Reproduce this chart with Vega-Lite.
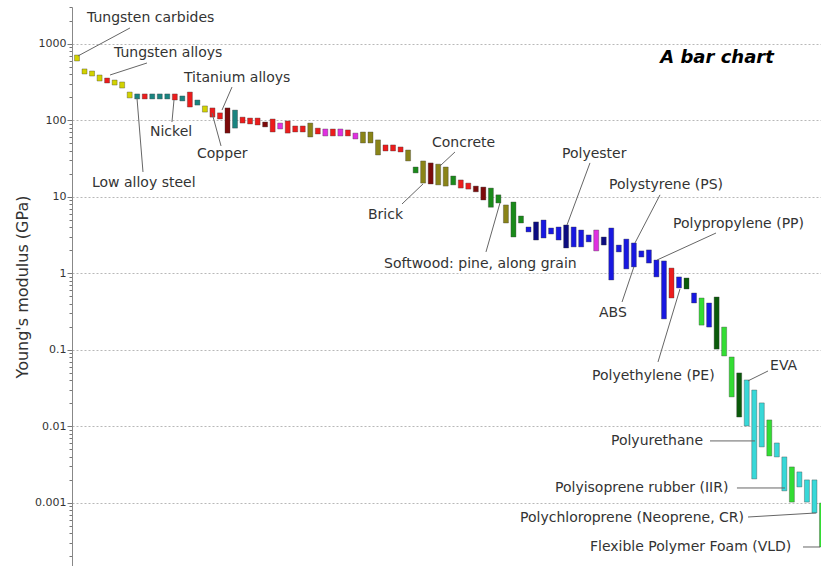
{
  "$schema": "https://vega.github.io/schema/vega-lite/v6.json",
  "width": 749,
  "height": 559,
  "autosize": "none",
  "padding": {"left": 72, "top": 7, "right": 0, "bottom": 0},
  "background": "white",
  "config": {"view": {"stroke": null}, "font": "DejaVu Sans"},
  "layer": [
    {
      "data": {"values": [
        {"i":0,"lo":596,"hi":714,"c":"yellow"},
        {"i":1,"lo":403,"hi":469,"c":"yellow"},
        {"i":2,"lo":379,"hi":441,"c":"yellow"},
        {"i":3,"lo":326,"hi":391,"c":"yellow"},
        {"i":4,"lo":307,"hi":357,"c":"red"},
        {"i":5,"lo":289,"hi":336,"c":"yellow"},
        {"i":6,"lo":264,"hi":317,"c":"yellow"},
        {"i":7,"lo":196,"hi":234,"c":"yellow"},
        {"i":8,"lo":190,"hi":221,"c":"teal"},
        {"i":9,"lo":190,"hi":221,"c":"red"},
        {"i":10,"lo":190,"hi":221,"c":"teal"},
        {"i":11,"lo":190,"hi":221,"c":"teal"},
        {"i":12,"lo":190,"hi":221,"c":"teal"},
        {"i":13,"lo":184,"hi":221,"c":"red"},
        {"i":14,"lo":179,"hi":208,"c":"teal"},
        {"i":15,"lo":149,"hi":234,"c":"red"},
        {"i":16,"lo":158,"hi":184,"c":"teal"},
        {"i":17,"lo":128,"hi":154,"c":"yellow"},
        {"i":18,"lo":110,"hi":145,"c":"red"},
        {"i":19,"lo":104,"hi":125,"c":"red"},
        {"i":20,"lo":68,"hi":145,"c":"darkred"},
        {"i":21,"lo":79,"hi":136,"c":"teal"},
        {"i":22,"lo":92,"hi":110,"c":"red"},
        {"i":23,"lo":89.5,"hi":107,"c":"red"},
        {"i":24,"lo":86.8,"hi":107,"c":"red"},
        {"i":25,"lo":81.9,"hi":95,"c":"darkred"},
        {"i":26,"lo":70.3,"hi":104,"c":"red"},
        {"i":27,"lo":77,"hi":92,"c":"magenta"},
        {"i":28,"lo":68,"hi":98,"c":"red"},
        {"i":29,"lo":70.3,"hi":84.3,"c":"red"},
        {"i":30,"lo":70.3,"hi":84.3,"c":"red"},
        {"i":31,"lo":60.5,"hi":92,"c":"olive"},
        {"i":32,"lo":66.2,"hi":79,"c":"red"},
        {"i":33,"lo":62.4,"hi":77,"c":"magenta"},
        {"i":34,"lo":62.4,"hi":77,"c":"red"},
        {"i":35,"lo":62.4,"hi":77,"c":"magenta"},
        {"i":36,"lo":62.4,"hi":74.8,"c":"red"},
        {"i":37,"lo":57,"hi":68,"c":"magenta"},
        {"i":38,"lo":50.5,"hi":70.3,"c":"olive"},
        {"i":39,"lo":50.5,"hi":70.3,"c":"olive"},
        {"i":40,"lo":35.2,"hi":55.4,"c":"olive"},
        {"i":41,"lo":39.7,"hi":47.6,"c":"red"},
        {"i":42,"lo":39.7,"hi":47.6,"c":"red"},
        {"i":43,"lo":38.5,"hi":44.8,"c":"red"},
        {"i":44,"lo":29.4,"hi":40.9,"c":"olive"},
        {"i":45,"lo":20.5,"hi":24.5,"c":"green"},
        {"i":46,"lo":15.1,"hi":29.4,"c":"olive"},
        {"i":47,"lo":14.7,"hi":27.7,"c":"darkred"},
        {"i":48,"lo":14.3,"hi":26.7,"c":"olive"},
        {"i":49,"lo":13.8,"hi":24.5,"c":"olive"},
        {"i":50,"lo":14.3,"hi":18.7,"c":"green"},
        {"i":51,"lo":13.0,"hi":16.6,"c":"red"},
        {"i":52,"lo":12.6,"hi":15.1,"c":"red"},
        {"i":53,"lo":11.6,"hi":13.8,"c":"darkred"},
        {"i":54,"lo":9.08,"hi":13.4,"c":"darkred"},
        {"i":55,"lo":7.3,"hi":13.0,"c":"green"},
        {"i":56,"lo":8.3,"hi":10.6,"c":"green"},
        {"i":57,"lo":4.54,"hi":7.82,"c":"olive"},
        {"i":58,"lo":2.98,"hi":8.55,"c":"green"},
        {"i":59,"lo":4.54,"hi":5.61,"c":"green"},
        {"i":60,"lo":3.47,"hi":4.03,"c":"blue"},
        {"i":61,"lo":2.72,"hi":4.69,"c":"darkblue"},
        {"i":62,"lo":2.89,"hi":4.97,"c":"blue"},
        {"i":63,"lo":3.26,"hi":3.91,"c":"blue"},
        {"i":64,"lo":2.72,"hi":4.03,"c":"blue"},
        {"i":65,"lo":2.14,"hi":4.28,"c":"darkblue"},
        {"i":66,"lo":2.21,"hi":4.03,"c":"blue"},
        {"i":67,"lo":2.21,"hi":3.68,"c":"blue"},
        {"i":68,"lo":2.57,"hi":3.17,"c":"blue"},
        {"i":69,"lo":1.96,"hi":3.68,"c":"magenta"},
        {"i":70,"lo":2.34,"hi":2.98,"c":"darkblue"},
        {"i":71,"lo":0.817,"hi":3.91,"c":"blue"},
        {"i":72,"lo":1.90,"hi":2.34,"c":"blue"},
        {"i":73,"lo":1.14,"hi":2.8,"c":"blue"},
        {"i":74,"lo":1.21,"hi":2.49,"c":"blue"},
        {"i":75,"lo":1.63,"hi":1.96,"c":"blue"},
        {"i":76,"lo":1.36,"hi":2.02,"c":"blue"},
        {"i":77,"lo":0.896,"hi":1.49,"c":"blue"},
        {"i":78,"lo":0.253,"hi":1.45,"c":"blue"},
        {"i":79,"lo":0.475,"hi":1.17,"c":"red"},
        {"i":80,"lo":0.643,"hi":0.896,"c":"blue"},
        {"i":81,"lo":0.623,"hi":0.868,"c":"darkgreen"},
        {"i":82,"lo":0.409,"hi":0.552,"c":"blue"},
        {"i":83,"lo":0.210,"hi":0.475,"c":"lime"},
        {"i":84,"lo":0.198,"hi":0.409,"c":"blue"},
        {"i":85,"lo":0.102,"hi":0.490,"c":"darkgreen"},
        {"i":86,"lo":0.083,"hi":0.198,"c":"lime"},
        {"i":87,"lo":0.0242,"hi":0.0805,"c":"lime"},
        {"i":88,"lo":0.0132,"hi":0.0498,"c":"darkgreen"},
        {"i":89,"lo":0.0101,"hi":0.0403,"c":"cyan"},
        {"i":90,"lo":0.00205,"hi":0.0298,"c":"cyan"},
        {"i":91,"lo":0.00537,"hi":0.0202,"c":"cyan"},
        {"i":92,"lo":0.00409,"hi":0.0121,"c":"lime"},
        {"i":93,"lo":0.00397,"hi":0.00605,"c":"cyan"},
        {"i":94,"lo":0.00143,"hi":0.00397,"c":"cyan"},
        {"i":95,"lo":0.00102,"hi":0.00294,"c":"lime"},
        {"i":96,"lo":0.00161,"hi":0.00253,"c":"cyan"},
        {"i":97,"lo":0.00102,"hi":0.00199,"c":"cyan"},
        {"i":98,"lo":0.000735,"hi":0.00199,"c":"cyan"},
        {"i":99,"lo":0.000264,"hi":0.000993,"c":"lime"}
      ]},
      "mark": {"type": "bar", "width": 5, "clip": true, "stroke": "#3a3a3a", "strokeWidth": 0.6, "strokeOpacity": 0.6},
      "encoding": {
        "x": {"field": "i", "type": "quantitative", "scale": {"domain": [-0.664, 98.87], "nice": false, "zero": false, "padding": 0}, "axis": null},
        "y": {"field": "lo", "type": "quantitative", "title": "Young's modulus (GPa)",
          "scale": {"type": "log", "domain": [0.000149, 3027], "nice": false},
          "axis": {
            "values": [0.0002,0.0003,0.0004,0.0005,0.0006,0.0007,0.0008,0.0009,0.001,0.002,0.003,0.004,0.005,0.006,0.007,0.008,0.009,0.01,0.02,0.03,0.04,0.05,0.06,0.07,0.08,0.09,0.1,0.2,0.3,0.4,0.5,0.6,0.7,0.8,0.9,1,2,3,4,5,6,7,8,9,10,20,30,40,50,60,70,80,90,100,200,300,400,500,600,700,800,900,1000,2000,3000],
            "labelExpr": "abs(log(datum.value)/LN10 - round(log(datum.value)/LN10)) < 0.001 ? format(datum.value, '~g') : ''",
            "labelOverlap": false,
            "labelFlush": false,
            "labelFont": "DejaVu Sans",
            "labelFontSize": 11,
            "labelColor": "#333333",
            "labelPadding": 1,
            "tickColor": "#777777",
            "tickSize": {"condition": {"test": "abs(log(datum.value)/LN10 - round(log(datum.value)/LN10)) < 0.001", "value": 5}, "value": 3},
            "grid": true,
            "gridColor": "#b8b8b8",
            "gridDash": [2, 2],
            "gridOpacity": {"condition": {"test": "abs(log(datum.value)/LN10 - round(log(datum.value)/LN10)) < 0.001", "value": 1}, "value": 0},
            "domainColor": "#888888",
            "titleFont": "DejaVu Sans",
            "titleFontSize": 16,
            "titleFontWeight": "normal",
            "titleColor": "#333333",
            "titlePadding": 4
          }
        },
        "y2": {"field": "hi"},
        "color": {"field": "c", "type": "nominal", "legend": null,
          "scale": {
            "domain": ["yellow","red","teal","darkred","magenta","olive","green","blue","darkblue","darkgreen","lime","cyan"],
            "range": ["#d2d200","#ec1c1c","#1a8480","#7c0a0a","#e030e0","#8a8418","#1a8a1a","#1818e0","#0c0c80","#0a5a0a","#33dd33","#38d8d8"]
          }
        }
      }
    },
    {
      "data": {"values": [
        {"x1":0.13,"y1":693,"x2":7.04,"y2":1610},
        {"x1":4.39,"y1":391,"x2":9.30,"y2":561},
        {"x1":19.27,"y1":136,"x2":20.6,"y2":272},
        {"x1":12.89,"y1":184,"x2":12.62,"y2":95},
        {"x1":17.94,"y1":125,"x2":19.14,"y2":46.2},
        {"x1":7.97,"y1":196,"x2":8.77,"y2":21.1},
        {"x1":48.24,"y1":25.3,"x2":50.23,"y2":38.5},
        {"x1":45.98,"y1":14.7,"x2":43.19,"y2":8.05},
        {"x1":56.21,"y1":8.3,"x2":54.35,"y2":1.90},
        {"x1":65.12,"y1":4.28,"x2":68.17,"y2":27.7},
        {"x1":74.15,"y1":2.49,"x2":77.48,"y2":10.6},
        {"x1":77.08,"y1":1.49,"x2":84.92,"y2":3.36},
        {"x1":74.0,"y1":1.21,"x2":72.43,"y2":0.421},
        {"x1":80.13,"y1":0.623,"x2":77.21,"y2":0.0693},
        {"x1":89.17,"y1":0.0392,"x2":91.83,"y2":0.0528},
        {"x1":84.12,"y1":0.00643,"x2":90.1,"y2":0.00643},
        {"x1":87.7,"y1":0.00156,"x2":94.09,"y2":0.00156},
        {"x1":89.17,"y1":0.000651,"x2":98.2,"y2":0.000735},
        {"x1":96.48,"y1":0.000264,"x2":98.74,"y2":0.000264}
      ]},
      "mark": {"type": "rule", "color": "#666666", "strokeWidth": 1, "clip": true},
      "encoding": {
        "x": {"field": "x1", "type": "quantitative", "scale": {"domain": [-0.664, 98.87], "nice": false, "zero": false, "padding": 0}, "axis": null},
        "x2": {"field": "x2"},
        "y": {"field": "y1", "type": "quantitative", "title": "Young's modulus (GPa)", "scale": {"type": "log", "domain": [0.000149, 3027], "nice": false}},
        "y2": {"field": "y2"}
      }
    },
    {
      "data": {"values": [
        {"x":1.33,"y":2175,"t":"Tungsten carbides"},
        {"x":4.92,"y":758,"t":"Tungsten alloys"},
        {"x":14.22,"y":357,"t":"Titanium alloys"},
        {"x":9.70,"y":70.3,"t":"Nickel"},
        {"x":15.95,"y":36.3,"t":"Copper"},
        {"x":1.99,"y":15.1,"t":"Low alloy steel"},
        {"x":47.18,"y":50.5,"t":"Concrete"},
        {"x":38.67,"y":5.78,"t":"Brick"},
        {"x":40.80,"y":1.323,"t":"Softwood: pine, along grain"},
        {"x":64.45,"y":36.3,"t":"Polyester"},
        {"x":70.70,"y":14.3,"t":"Polystyrene (PS)"},
        {"x":79.2,"y":4.41,"t":"Polypropylene (PP)"},
        {"x":69.37,"y":0.303,"t":"ABS"},
        {"x":68.44,"y":0.0455,"t":"Polyethylene (PE)"},
        {"x":92.1,"y":0.0614,"t":"EVA"},
        {"x":70.96,"y":0.00643,"t":"Polyurethane"},
        {"x":63.52,"y":0.00156,"t":"Polyisoprene rubber (IIR)"},
        {"x":58.87,"y":0.000633,"t":"Polychloroprene (Neoprene, CR)"},
        {"x":68.17,"y":0.000264,"t":"Flexible Polymer Foam (VLD)"}
      ]},
      "mark": {"type": "text", "align": "left", "baseline": "middle", "font": "DejaVu Sans", "fontSize": 14, "color": "#333333"},
      "encoding": {
        "x": {"field": "x", "type": "quantitative", "scale": {"domain": [-0.664, 98.87], "nice": false, "zero": false, "padding": 0}, "axis": null},
        "y": {"field": "y", "type": "quantitative", "title": "Young's modulus (GPa)", "scale": {"type": "log", "domain": [0.000149, 3027], "nice": false}},
        "text": {"field": "t", "type": "nominal"}
      }
    },
    {
      "data": {"values": [{"t": "A bar chart", "x": 85.05, "y": 652}]},
      "mark": {"type": "text", "align": "center", "baseline": "middle", "font": "DejaVu Sans", "fontSize": 18, "fontWeight": "bold", "fontStyle": "italic", "color": "#000000"},
      "encoding": {
        "x": {"field": "x", "type": "quantitative", "scale": {"domain": [-0.664, 98.87], "nice": false, "zero": false, "padding": 0}, "axis": null},
        "y": {"field": "y", "type": "quantitative", "title": "Young's modulus (GPa)", "scale": {"type": "log", "domain": [0.000149, 3027], "nice": false}},
        "text": {"field": "t", "type": "nominal"}
      }
    }
  ]
}
